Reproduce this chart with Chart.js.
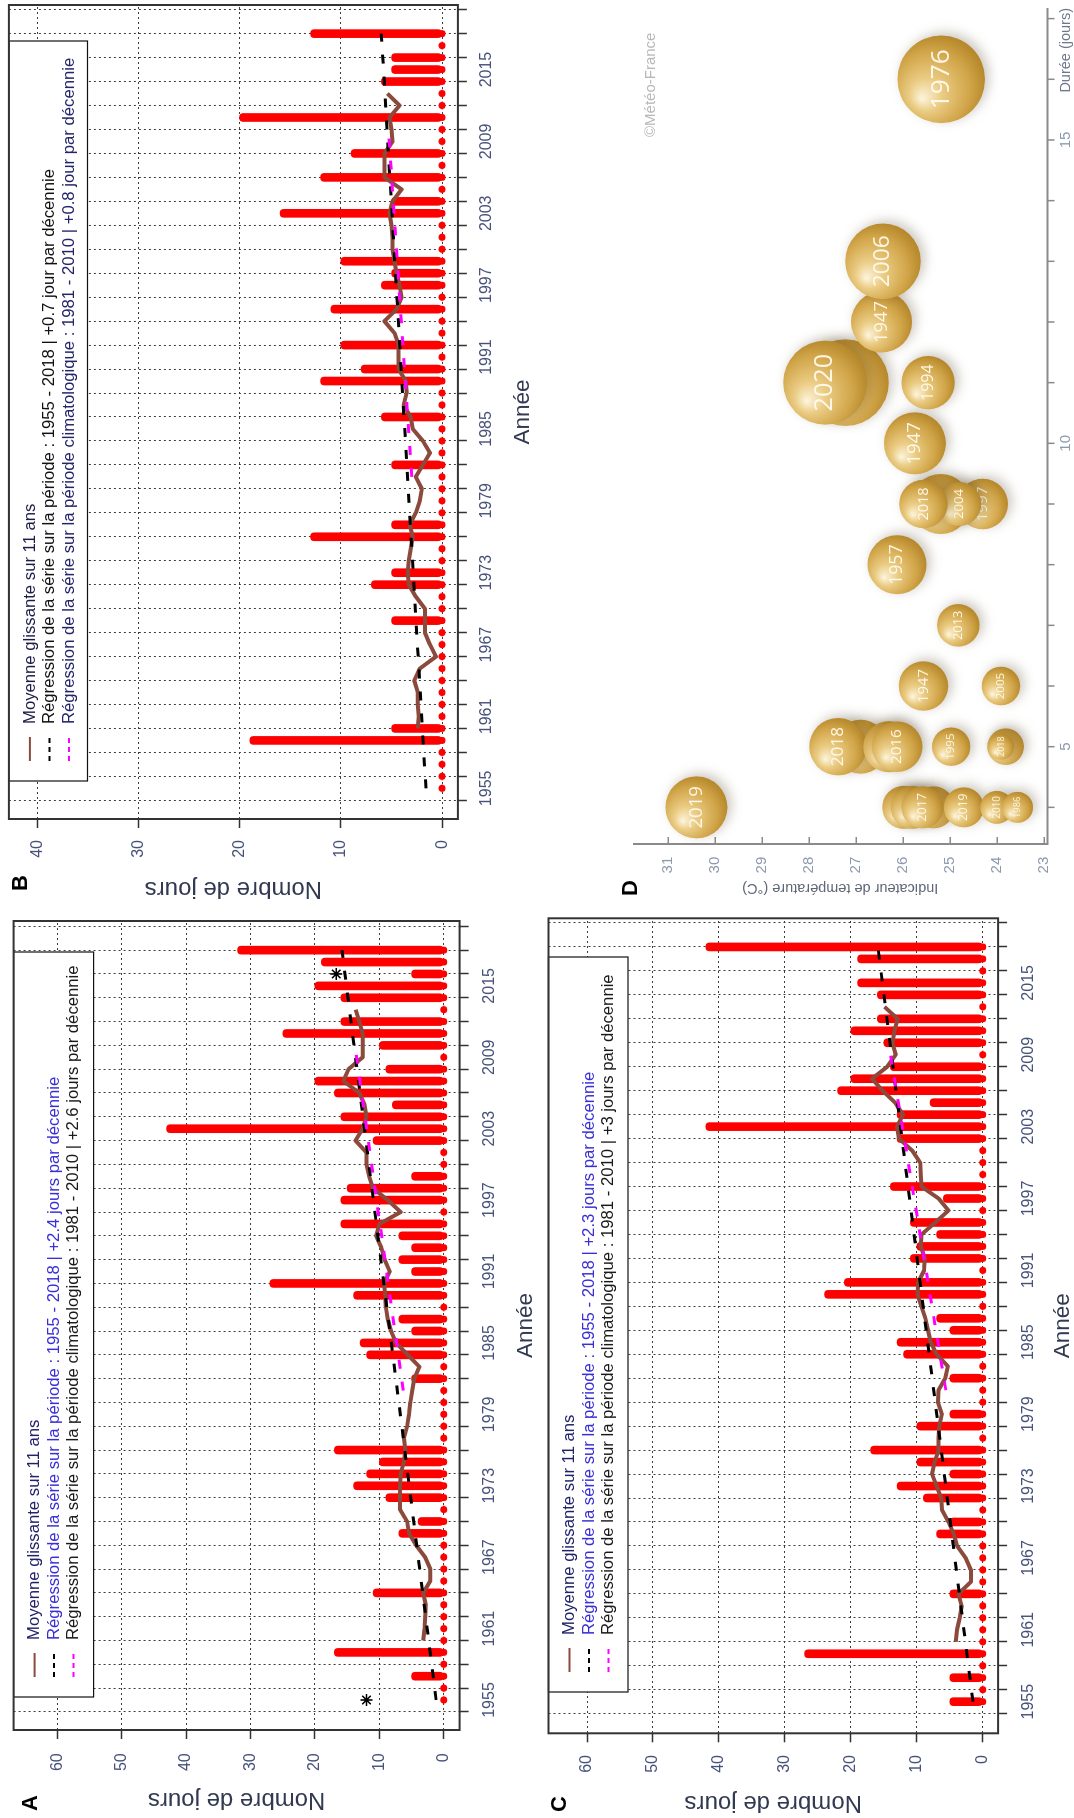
<!DOCTYPE html>
<html lang="fr">
<head>
<meta charset="UTF-8">
<title>Vagues de chaleur | Météo-France</title>
<script src="https://cdn.jsdelivr.net/npm/chart.js@4"></script>
<style>
    html, body { margin: 0; padding: 0; background: #fff; overflow: hidden; }
    body { width: 1074px; height: 1818px; position: relative; font-family: 'Liberation Sans', Arial, sans-serif; }
    /* la figure est construite à plat (1818 x 1074) puis tournée d'un quart de tour */
    #figure { position: absolute; left: 0; top: 0; width: 1818px; height: 1074px;
              transform-origin: 0 0; transform: translate(0, 1818px) rotate(-90deg); }
    #figure canvas { position: absolute; }
    .lettre { position: absolute; font-weight: bold; font-size: 22px; line-height: 1; color: #000; transform: translate(-50%, -50%); }
    .copyright { position: absolute; left: 1681px; top: 641px; font-size: 15px; color: #b8b8b8; white-space: nowrap; }
</style>
</head>
<body>
<div id="figure">
    <canvas id="cA" width="905" height="545" style="left:0;top:0;width:905px;height:545px"></canvas>
    <canvas id="cB" width="913" height="545" style="left:905px;top:0;width:913px;height:545px"></canvas>
    <canvas id="cC" width="905" height="529" style="left:0;top:545px;width:905px;height:529px"></canvas>
    <canvas id="cD" width="913" height="529" style="left:905px;top:545px;width:913px;height:529px"></canvas>
    <div class="lettre" style="left:15px;top:30px">A</div>
    <div class="lettre" style="left:935px;top:20px">B</div>
    <div class="lettre" style="left:14px;top:559px">C</div>
    <div class="lettre" style="left:930px;top:630px">D</div>
    <div class="copyright">©Météo-France</div>
</div>

<script>
    // Années de la série
    const annees = [1955, 1956, 1957, 1958, 1959, 1960, 1961, 1962, 1963, 1964,
                    1965, 1966, 1967, 1968, 1969, 1970, 1971, 1972, 1973, 1974,
                    1975, 1976, 1977, 1978, 1979, 1980, 1981, 1982, 1983, 1984,
                    1985, 1986, 1987, 1988, 1989, 1990, 1991, 1992, 1993, 1994,
                    1995, 1996, 1997, 1998, 1999, 2000, 2001, 2002, 2003, 2004,
                    2005, 2006, 2007, 2008, 2009, 2010, 2011, 2012, 2013, 2014,
                    2015, 2016, 2017, 2018];
    const anneesMoyenne = [1960, 1961, 1962, 1963, 1964, 1965, 1966, 1967, 1968, 1969,
                           1970, 1971, 1972, 1973, 1974, 1975, 1976, 1977, 1978, 1979,
                           1980, 1981, 1982, 1983, 1984, 1985, 1986, 1987, 1988, 1989,
                           1990, 1991, 1992, 1993, 1994, 1995, 1996, 1997, 1998, 1999,
                           2000, 2001, 2002, 2003, 2004, 2005, 2006, 2007, 2008, 2009,
                           2010, 2011, 2012, 2013];
    const anneesRegression = [1955, 2018];
    const anneesClimato = [1981, 2010];

    // Graduations
    const ticksAnnees = [1955, 1957, 1959, 1961, 1963, 1965, 1967, 1969, 1971, 1973, 1975,
                         1977, 1979, 1981, 1983, 1985, 1987, 1989, 1991, 1993, 1995, 1997,
                         1999, 2001, 2003, 2005, 2007, 2009, 2011, 2013, 2015, 2017, 2019];
    const etiquettesAnnees = [1955, 1961, 1967, 1973, 1979, 1985, 1991, 1997, 2003, 2009, 2015];
    const ticksJours60 = [0, 10, 20, 30, 40, 50, 60];
    const ticksJours40 = [0, 10, 20, 30, 40];

    // Panneau A
    const joursA = [0, 0, 5, 0, 17, 0, 0, 0, 0, 11,
                    0, 0, 0, 0, 7, 4, 0, 9, 14, 12,
                    10, 17, 0, 0, 0, 0, 0, 5, 0, 12,
                    13, 5, 7, 0, 14, 27, 5, 7, 5, 7,
                    16, 0, 16, 15, 5, 0, 0, 11, 43, 16,
                    8, 17, 20, 9, 0, 10, 25, 16, 0, 16,
                    20, 5, 19, 32];
    const moyenneA = [3.2, 3.0, 2.9, 2.8, 3.2, 2.1, 2.1, 2.9, 4.3, 5.4,
                      5.7, 6.8, 6.8, 6.8, 6.7, 6.2, 6.0, 6.2, 5.7, 5.4,
                      5.2, 4.9, 4.6, 3.8, 5.6, 7.4, 8.2, 8.7, 9.0, 9.1,
                      9.3, 8.4, 9.2, 9.7, 10.5, 10.0, 6.7, 8.7, 11.0, 11.6,
                      12.0, 12.0, 13.7, 12.6, 12.0, 12.3, 13.1, 15.6, 14.8, 12.6,
                      12.6, 12.6, 13.1, 13.7];
    const regressionA = [1.2, 15.8];
    const climatoA = [6.3, 13.8];
    const etoilesAnneesA = [1955, 2016];
    const etoilesValeursA = [12, 16.7];

    // Panneau B
    const joursB = [0, 0, 0, 0, 19, 5, 0, 0, 0, 0,
                    0, 0, 0, 0, 5, 0, 0, 7, 5, 0,
                    0, 13, 5, 0, 0, 0, 0, 5, 0, 0,
                    0, 6, 0, 0, 12, 8, 0, 10, 0, 0,
                    11, 0, 6, 5, 10, 0, 0, 0, 16, 5,
                    0, 12, 0, 9, 0, 0, 20, 0, 0, 6,
                    5, 5, 0, 13];
    const moyenneB = [2.4, 2.3, 2.4, 2.4, 2.75, 2.2, 0.6, 1.2, 1.7, 1.7,
                      1.7, 2.6, 3.3, 3.4, 3.3, 3.1, 2.9, 3.2, 2.6, 2.2,
                      2.0, 2.6, 1.9, 1.2, 1.9, 2.9, 3.1, 3.8, 3.5, 3.6,
                      4.3, 4.3, 4.3, 4.7, 5.7, 4.5, 4.0, 4.2, 4.5, 4.7,
                      4.9, 4.9, 5.0, 5.2, 4.9, 4.0, 5.7, 5.7, 5.7, 4.9,
                      5.0, 5.2, 4.2, 5.4];
    const regressionB = [1.6, 6.0];
    const climatoB = [3.0, 5.3];

    // Panneau C
    const joursC = [5, 0, 5, 0, 27, 0, 0, 0, 0, 5,
                    0, 0, 0, 0, 7, 5, 0, 9, 13, 5,
                    10, 17, 0, 10, 5, 0, 0, 5, 0, 12,
                    13, 5, 7, 0, 24, 21, 0, 11, 10, 7,
                    11, 0, 6, 14, 0, 0, 0, 13, 42, 13,
                    8, 22, 20, 14, 0, 15, 20, 16, 0, 16,
                    19, 0, 19, 42];
    const moyenneC = [4.1, 3.9, 3.5, 3.2, 3.7, 1.8, 1.8, 2.6, 3.9, 4.4,
                      5.2, 6.2, 6.3, 7.0, 7.7, 7.3, 6.7, 6.7, 6.6, 6.2,
                      6.8, 6.7, 5.7, 5.3, 7.0, 7.9, 8.3, 8.7, 9.3, 9.9,
                      9.8, 8.9, 8.8, 9.4, 9.3, 7.2, 5.2, 6.7, 9.3, 9.4,
                      9.5, 10.7, 12.7, 13.0, 12.1, 13.3, 15.2, 16.8, 14.5, 13.2,
                      13.7, 13.4, 12.9, 14.9];
    const regressionC = [1.5, 15.9];
    const climatoC = [5.6, 14.3];

    // Légendes
    const legendeA = ['Moyenne glissante sur 11 ans',
                      'Régression de la série sur la période : 1955 - 2018 | +2.4 jours par décennie',
                      'Régression de la série sur la période climatologique : 1981 - 2010 | +2.6 jours par décennie'];
    const legendeB = ['Moyenne glissante sur 11 ans',
                      'Régression de la série sur la période : 1955 - 2018 | +0.7 jour par décennie',
                      'Régression de la série sur la période climatologique : 1981 - 2010 | +0.8 jour par décennie'];
    const legendeC = ['Moyenne glissante sur 11 ans',
                      'Régression de la série sur la période : 1955 - 2018 | +2.3 jours par décennie',
                      'Régression de la série sur la période climatologique : 1981 - 2010 | +3 jours par décennie'];

    // Panneau D : vagues de chaleur (durée, indicateur thermique, taille de bulle)
    const durees = [4, 4, 4, 4, 4, 4, 4, 4,
                    5, 5, 5, 5, 5, 5, 5,
                    6, 6, 7, 8,
                    9, 9, 9, 9, 10,
                    11, 11, 11, 12, 13, 16];
    const temperatures = [30.40, 25.99, 25.81, 25.35, 25.59, 24.71, 24.01, 23.57,
                          26.91, 27.39, 26.31, 26.13, 24.98, 23.82, 23.92,
                          25.57, 23.92, 24.83, 26.13,
                          24.31, 25.20, 24.81, 25.57, 25.75,
                          27.23, 27.66, 25.47, 26.46, 26.43, 25.19];
    const rayons = [31, 21.5, 21.5, 21, 21, 20, 16.5, 15.5,
                    27, 28.7, 25.5, 25.3, 19.2, 18.3, 13,
                    24.7, 19.3, 21.3, 29.5,
                    25.3, 30, 22, 24.2, 31,
                    43.3, 42, 26.7, 30.5, 37.8, 43.8];
    const etiquettesBulles = ['2019', '', '', '', '2017', '2019', '2010', '1986',
                              '', '2018', '', '2016', '1995', '', '2018',
                              '1947', '2005', '2013', '1957',
                              '1997', '', '2004', '2018', '1947',
                              '', '2020', '1994', '1947', '2006', '1976'];
    const ticksTemperature = [23, 24, 25, 26, 27, 28, 29, 30, 31];
    const ticksDuree = [4, 5, 6, 7, 8, 9, 10, 11, 12, 13, 14, 15, 16, 17];
    const etiquettesDuree = [5, 10, 15];

    // Style général
    Chart.defaults.font.family = "'Liberation Sans', Arial, sans-serif";
    Chart.defaults.animation = false;
    const couleurTicks = '#46527a';
    const couleurTitres = '#323a52';

    // Cadre + légende façon R
    const cadreLegende = {
        id: 'cadreLegende',
        afterDatasetsDraw(chart, args, o) {
            const { ctx, chartArea: a } = chart;
            ctx.save();
            const x0 = a.left + o.gauche, y0 = a.top;
            ctx.fillStyle = '#fff';
            ctx.fillRect(x0, y0, o.largeur, o.hauteur);
            ctx.strokeStyle = '#111';
            ctx.lineWidth = 1.2;
            ctx.strokeRect(x0, y0, o.largeur, o.hauteur);
            const traits = [['#8b4a3c', []], ['#000', [5, 4]], ['#ff00ff', [5, 4]]];
            const decalages = [21, 40.5, 60];
            o.textes.forEach((t, i) => {
                const y = y0 + decalages[i];
                ctx.strokeStyle = traits[i][0];
                ctx.lineWidth = 2;
                ctx.setLineDash(traits[i][1]);
                ctx.beginPath();
                ctx.moveTo(x0 + 20, y);
                ctx.lineTo(x0 + 44, y);
                ctx.stroke();
                ctx.setLineDash([]);
                ctx.fillStyle = o.couleurs[i];
                ctx.font = '16.7px "Liberation Sans", Arial, sans-serif';
                ctx.textBaseline = 'middle';
                ctx.textAlign = 'left';
                ctx.fillText(t, x0 + 57, y);
            });
            ctx.strokeStyle = '#333';
            ctx.lineWidth = 2;
            ctx.strokeRect(a.left, a.top, a.right - a.left, a.bottom - a.top);
            ctx.restore();
        }
    };

    // tailles d'axes fixes, sans marge automatique
    function largeurFixe(w) {
        return s => { s.width = w; s.paddingTop = 0; s.paddingBottom = 0; };
    }
    function hauteurFixe(h) {
        return s => { s.height = h; s.paddingLeft = 0; s.paddingRight = 0; };
    }

    function traceSerie(id, p) {
        const datasets = [
            {
                type: 'bar',
                data: annees.map((an, i) => ({ x: an, y: p.jours[i] })),
                backgroundColor: '#ff0000',
                barThickness: 8,
                borderRadius: 4,
                borderSkipped: false,
                order: 5
            },
            {
                type: 'scatter',
                data: annees.map(an => ({ x: an, y: 0 })),
                pointRadius: 3.5,
                pointBackgroundColor: '#ff0000',
                pointBorderWidth: 0,
                order: 4
            },
            {
                type: 'line',
                data: anneesMoyenne.map((an, i) => ({ x: an, y: p.moyenne[i] })),
                borderColor: '#8b4a3c',
                borderWidth: 4,
                borderJoinStyle: 'round',
                pointRadius: 0,
                order: 3
            },
            {
                type: 'line',
                data: anneesRegression.map((an, i) => ({ x: an, y: p.regression[i] })),
                borderColor: '#000',
                borderWidth: 3,
                borderDash: [9, 13],
                pointRadius: 0,
                order: 2
            },
            {
                type: 'line',
                data: anneesClimato.map((an, i) => ({ x: an, y: p.climato[i] })),
                borderColor: '#ff00ff',
                borderWidth: 3,
                borderDash: [9, 13],
                pointRadius: 0,
                order: 1
            }
        ];
        if (p.etoiles) {
            datasets.push({
                type: 'scatter',
                data: p.etoiles,
                pointStyle: 'star',
                pointRadius: 6,
                pointBorderColor: '#000',
                pointBorderWidth: 1.6,
                order: 0
            });
        }

        const grille = { color: '#3c3c3c', lineWidth: 1, tickLength: 9, tickColor: '#333', tickWidth: 1.5, tickBorderDash: [] };

        new Chart(document.getElementById(id), {
            type: 'bar',
            data: { datasets },
            options: {
                responsive: false,
                events: [],
                layout: { autoPadding: false, padding: { top: p.haut, right: p.droite, left: 0, bottom: 0 } },
                plugins: {
                    legend: { display: false },
                    tooltip: { enabled: false },
                    cadreLegende: { gauche: p.legende.gauche, largeur: p.legende.largeur, hauteur: p.legende.hauteur,
                                    textes: p.legende.textes, couleurs: p.legende.couleurs }
                },
                scales: {
                    x: {
                        type: 'linear', min: p.xMin, max: p.xMax, offset: false,
                        afterBuildTicks: s => { s.ticks = ticksAnnees.map(v => ({ value: v })); },
                        afterFit: hauteurFixe(p.hauteurX),
                        grid: grille,
                        border: { display: false, dash: [2, 3] },
                        ticks: {
                            autoSkip: false, maxRotation: 0, minRotation: 0,
                            padding: p.padTicksX, color: couleurTicks, font: { size: 16 },
                            callback: v => etiquettesAnnees.includes(v) ? String(v) : ''
                        },
                        title: { display: true, text: 'Année', color: couleurTitres,
                                 font: { size: 22.5, lineHeight: 1 }, padding: { top: 0, bottom: p.padTitreX } }
                    },
                    y: {
                        type: 'linear', min: p.yMin, max: p.yMax,
                        afterBuildTicks: s => { s.ticks = p.ticksJours.map(v => ({ value: v })); },
                        afterFit: largeurFixe(p.largeurY),
                        grid: grille,
                        border: { display: false, dash: [2, 3] },
                        ticks: { padding: p.padTicksY, color: couleurTicks, font: { size: 16 } },
                        title: { display: true, text: 'Nombre de jours', color: couleurTitres,
                                 font: { size: 24, lineHeight: 1 }, padding: { top: p.padTitreY, bottom: 0 } }
                    }
                }
            },
            plugins: [cadreLegende]
        });
    }

    traceSerie('cA', {
        jours: joursA, moyenne: moyenneA, regression: regressionA, climato: climatoA,
        etoiles: etoilesAnneesA.map((an, i) => ({ x: an, y: etoilesValeursA[i] })),
        xMin: 1952.48, xMax: 2020.45, yMin: -2.44, yMax: 66.75, ticksJours: ticksJours60,
        haut: 13.6, droite: 8, largeurY: 88, hauteurX: 85.4,
        padTicksX: 11.5, padTicksY: 14.3, padTitreX: 7.75, padTitreY: 6,
        legende: { gauche: 33, largeur: 745, hauteur: 80, textes: legendeA,
                   couleurs: ['#22226a', '#3a2fd6', '#1a1a1a'] }
    });

    traceSerie('cB', {
        jours: joursB, moyenne: moyenneB, regression: regressionB, climato: climatoB,
        xMin: 1952.44, xMax: 2020.39, yMin: -1.56, yMax: 42.79, ticksJours: ticksJours40,
        haut: 8.9, droite: 5, largeurY: 94, hauteurX: 87.1,
        padTicksX: 10.2, padTicksY: 12, padTitreX: 10.75, padTitreY: 12.6,
        legende: { gauche: 38, largeur: 740, hauteur: 78.6, textes: legendeB,
                   couleurs: ['#1c1c48', '#111111', '#24246a'] }
    });

    traceSerie('cC', {
        jours: joursC, moyenne: moyenneC, regression: regressionC, climato: climatoC,
        xMin: 1952.36, xMax: 2020.39, yMin: -2.32, yMax: 65.84, ticksJours: ticksJours60,
        haut: 3.5, droite: 5.3, largeurY: 84.7, hauteurX: 75.9,
        padTicksX: 12, padTicksY: 12.7, padTitreX: 0, padTitreY: 3.7,
        legende: { gauche: 41.3, largeur: 735, hauteur: 79.5, textes: legendeC,
                   couleurs: ['#22226a', '#3a2fd6', '#1a1a1a'] }
    });

    // ---- Panneau D : bulles ----
    function degradeBulle(c) {
        const chart = c.chart, raw = c.raw;
        if (!raw || !chart.chartArea) return '#d6ad5a';
        const x = chart.scales.x.getPixelForValue(raw.x);
        const y = chart.scales.y.getPixelForValue(raw.y);
        const r = raw.r;
        const g = chart.ctx.createRadialGradient(x - 0.45 * r, y - 0.45 * r, 0, x - 0.15 * r, y - 0.15 * r, 1.2 * r);
        g.addColorStop(0, '#fdf5de');
        g.addColorStop(0.3, '#ebcd86');
        g.addColorStop(0.72, '#d2a64a');
        g.addColorStop(1, '#b5862a');
        return g;
    }

    const axesD = {
        id: 'axesD',
        beforeDatasetsDraw(chart) {
            const { ctx, chartArea: a, scales: { x, y } } = chart;
            ctx.save();
            ctx.strokeStyle = '#8a8a8a';
            ctx.lineWidth = 2;
            ctx.beginPath();
            ctx.moveTo(a.left, a.top);
            ctx.lineTo(a.left, a.bottom);
            ctx.lineTo(a.right, a.bottom);
            ctx.stroke();
            ctx.lineWidth = 1.5;
            ctx.beginPath();
            ticksTemperature.forEach(t => {
                const py = y.getPixelForValue(t);
                ctx.moveTo(a.left, py);
                ctx.lineTo(a.left + 7, py);
            });
            ticksDuree.forEach(d => {
                const px = x.getPixelForValue(d);
                ctx.moveTo(px, a.bottom);
                ctx.lineTo(px, a.bottom + 7);
            });
            ctx.stroke();
            ctx.fillStyle = '#6f778a';
            ctx.font = '14.5px "Liberation Sans", Arial, sans-serif';
            ctx.textAlign = 'right';
            ctx.textBaseline = 'middle';
            ctx.fillText('Durée (jours)', a.right, a.bottom + 18);
            ctx.restore();
        }
    };

    const bulles = {
        id: 'bulles',
        beforeDatasetDraw(chart) {
            const ctx = chart.ctx;
            ctx.save();
            ctx.shadowColor = 'rgba(70, 55, 25, 0.28)';
            ctx.shadowBlur = 12;
            ctx.shadowOffsetX = 3;
            ctx.shadowOffsetY = 4;
        },
        afterDatasetDraw(chart, args) {
            const ctx = chart.ctx;
            ctx.restore();
            const ds = chart.data.datasets[args.index];
            if (!ds.etiquette) return;
            const pt = ds.data[0];
            const x = chart.scales.x.getPixelForValue(pt.x);
            const y = chart.scales.y.getPixelForValue(pt.y);
            ctx.save();
            ctx.fillStyle = 'rgba(255, 250, 236, 0.95)';
            ctx.font = Math.max(9, pt.r * 0.6).toFixed(1) + 'px "Open Sans", "Liberation Sans", sans-serif';
            ctx.textAlign = 'center';
            ctx.textBaseline = 'middle';
            ctx.fillText(ds.etiquette, x, y);
            ctx.restore();
        }
    };

    new Chart(document.getElementById('cD'), {
        type: 'bubble',
        data: {
            datasets: durees.map((d, i) => ({
                data: [{ x: d, y: temperatures[i], r: rayons[i] }],
                etiquette: etiquettesBulles[i],
                backgroundColor: degradeBulle,
                borderWidth: 0,
                hoverRadius: 0,
                clip: false,
                order: durees.length - i
            }))
        },
        options: {
            responsive: false,
            events: [],
            layout: { autoPadding: false, padding: { top: 88, right: 8, left: 0, bottom: 0 } },
            plugins: { legend: { display: false }, tooltip: { enabled: false } },
            scales: {
                x: {
                    type: 'linear', min: 3.396, max: 17.175,
                    afterBuildTicks: s => { s.ticks = etiquettesDuree.map(v => ({ value: v })); },
                    afterFit: hauteurFixe(26.5),
                    grid: { display: false, drawTicks: false },
                    border: { display: false },
                    ticks: { padding: 9.5, color: '#8e99ad', font: { size: 15 } }
                },
                y: {
                    type: 'linear', min: 22.93, max: 31.75,
                    afterBuildTicks: s => { s.ticks = ticksTemperature.map(v => ({ value: v })); },
                    afterFit: largeurFixe(69),
                    grid: { display: false, drawTicks: false },
                    border: { display: false },
                    ticks: { padding: 12.7, color: '#8e99ad', font: { size: 15 } },
                    title: { display: true, text: 'Indicateur de température (°C)', color: '#5f6677',
                             font: { size: 14.5, lineHeight: 1 }, padding: { top: 17.25, bottom: 0 } }
                }
            }
        },
        plugins: [axesD, bulles]
    });
</script>
</body>
</html>
